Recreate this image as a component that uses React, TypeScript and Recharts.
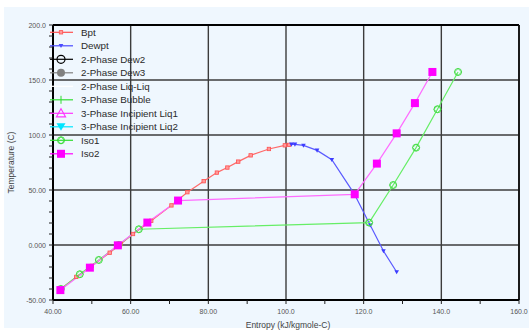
import React from 'react';
import { LineChart, Line, XAxis, YAxis, CartesianGrid, Legend, ReferenceLine } from 'recharts';

// ---------- data ----------
const bpt = [
  { x: 42.0, y: -40.0 }, { x: 46.0, y: -29.0 }, { x: 50.0, y: -19.0 }, { x: 54.6, y: -7.0 },
  { x: 57.5, y: 1.0 }, { x: 60.6, y: 10.0 }, { x: 65.3, y: 22.0 }, { x: 70.5, y: 36.0 },
  { x: 74.6, y: 48.0 }, { x: 78.8, y: 58.0 }, { x: 82.2, y: 65.8 }, { x: 84.9, y: 70.4 },
  { x: 87.7, y: 75.8 }, { x: 90.9, y: 81.5 }, { x: 95.6, y: 87.3 }, { x: 99.7, y: 90.6 },
  { x: 100.8, y: 91.0 },
];
const dewpt = [
  { x: 101.4, y: 91.5 }, { x: 102.3, y: 91.5 }, { x: 104.5, y: 90.5 }, { x: 108.0, y: 86.0 },
  { x: 111.8, y: 77.5 }, { x: 117.5, y: 47.0 }, { x: 121.7, y: 18.0 }, { x: 125.1, y: -5.5 },
  { x: 128.5, y: -24.5 },
];
const iso1 = [
  { x: 42.0, y: -40.0 }, { x: 46.9, y: -26.6 }, { x: 51.8, y: -13.6 }, { x: 56.9, y: 0.0 },
  { x: 62.1, y: 14.3 }, { x: 121.4, y: 20.4 }, { x: 127.6, y: 54.5 }, { x: 133.5, y: 88.5 },
  { x: 139.0, y: 123.4 }, { x: 144.3, y: 157.3 },
];
const iso2 = [
  { x: 41.9, y: -41.0 }, { x: 49.5, y: -20.6 }, { x: 56.7, y: -0.3 }, { x: 64.3, y: 20.4 },
  { x: 72.2, y: 40.4 }, { x: 117.7, y: 46.1 }, { x: 123.4, y: 74.0 }, { x: 128.5, y: 101.5 },
  { x: 133.2, y: 129.0 }, { x: 137.7, y: 157.3 },
];

const legendNames = [
  'Bpt', 'Dewpt', '2-Phase Dew2', '2-Phase Dew3', '2-Phase Liq-Liq', '3-Phase Bubble',
  '3-Phase Incipient Liq1', '3-Phase Incipient Liq2', 'Iso1', 'Iso2',
];

const xMajor = [40, 60, 80, 100, 120, 140, 160];
const xTickLabels = ['40.00', '60.00', '80.00', '100.0', '120.0', '140.0', '160.0'];
const xMinor = [50, 70, 90, 110, 130, 150];
const yMajor = [-50, 0, 50, 100, 150, 200];
const yTickLabels = ['-50.00', '0.000', '50.00', '100.0', '150.0', '200.0'];
const yMinor = [-40, -30, -20, -10, 10, 20, 30, 40, 60, 70, 80, 90, 110, 120, 130, 140, 160, 170, 180, 190];

// ---------- styles ----------
const FONT = '"Liberation Sans", Arial, sans-serif';
const legendStyle: Record<string, { color: string; marker: string }> = {
  'Bpt': { color: '#ff5050', marker: 'smallSquare' },
  'Dewpt': { color: '#4a4aff', marker: 'downTri' },
  '2-Phase Dew2': { color: '#000000', marker: 'openCircle' },
  '2-Phase Dew3': { color: '#808080', marker: 'filledCircle' },
  '2-Phase Liq-Liq': { color: '#ffffff', marker: 'none' },
  '3-Phase Bubble': { color: '#33dd33', marker: 'plus' },
  '3-Phase Incipient Liq1': { color: '#ff33ff', marker: 'openTri' },
  '3-Phase Incipient Liq2': { color: '#00e5ff', marker: 'bigDownTri' },
  'Iso1': { color: '#33dd33', marker: 'openDiamondCircle' },
  'Iso2': { color: '#ff00ff', marker: 'bigSquare' },
};

function marker(type: string, cx: number, cy: number, color: string, key?: string | number) {
  switch (type) {
    case 'smallSquare':
      return <rect key={key} x={cx - 1.7} y={cy - 1.7} width={3.4} height={3.4} fill="#ff9a9a" stroke={color} strokeWidth={0.8} />;
    case 'downTri':
      return <path key={key} d={`M${cx - 2.3},${cy - 1.8} L${cx + 2.3},${cy - 1.8} L${cx},${cy + 2.3} Z`} fill={color} />;
    case 'bigDownTri':
      return <path key={key} d={`M${cx - 4.5},${cy - 3.5} L${cx + 4.5},${cy - 3.5} L${cx},${cy + 4} Z`} fill={color} />;
    case 'openCircle':
      return <circle key={key} cx={cx} cy={cy} r={4} fill="none" stroke={color} strokeWidth={1.2} />;
    case 'filledCircle':
      return <circle key={key} cx={cx} cy={cy} r={4} fill={color} />;
    case 'plus':
      return (
        <g key={key}>
          <line x1={cx} y1={cy - 4} x2={cx} y2={cy + 4} stroke={color} strokeWidth={1} />
        </g>
      );
    case 'openTri':
      return <path key={key} d={`M${cx},${cy - 4.5} L${cx + 4.5},${cy + 3.5} L${cx - 4.5},${cy + 3.5} Z`} fill="none" stroke={color} strokeWidth={1.2} />;
    case 'openDiamondCircle':
      return (
        <g key={key}>
          <circle cx={cx} cy={cy} r={3.5} fill="none" stroke={color} strokeWidth={1} />
          <path d={`M${cx},${cy - 3.5} L${cx + 3.5},${cy} L${cx},${cy + 3.5} L${cx - 3.5},${cy} Z`} fill="none" stroke={color} strokeWidth={0.8} />
        </g>
      );
    case 'bigSquare':
      return <rect key={key} x={cx - 4} y={cy - 4} width={8} height={8} fill={color} />;
    default:
      return <g key={key} />;
  }
}

const makeDot = (type: string, color: string) => (props: any) => {
  const { cx, cy, index } = props;
  if (cx == null || cy == null) return <g key={`d${index}`} />;
  return marker(type, cx, cy, color, `d${index}`);
};

const LegendContent = () => (
  <svg width={150} height={140} style={{ overflow: 'visible' }}>
    {legendNames.map((name, i) => {
      const st = legendStyle[name];
      const cy = 7.3 + i * 13.5;
      return (
        <g key={name}>
          <line x1={2} y1={cy} x2={25} y2={cy} stroke={st.color} strokeWidth={1.2} />
          {marker(st.marker, 13, cy, st.color)}
          <text x={33} y={cy + 3.4} fontSize={9.8} fill="#2a2a2a" fontFamily={FONT}>{name}</text>
        </g>
      );
    })}
  </svg>
);

const XTick = (props: any) => {
  const { x, y, payload } = props;
  const idx = xMajor.indexOf(payload.value);
  if (idx < 0) return <g />;
  return (
    <text x={x} y={y + 8} textAnchor="middle" fontSize={7} fill="#555" fontFamily={FONT}>
      {xTickLabels[idx]}
    </text>
  );
};

const YTick = (props: any) => {
  const { x, y, payload } = props;
  const idx = yMajor.indexOf(payload.value);
  if (idx < 0) return <g />;
  return (
    <text x={x - 1} y={y + 2.5} textAnchor="end" fontSize={7} fill="#555" fontFamily={FONT}>
      {yTickLabels[idx]}
    </text>
  );
};

const xTicks = [...xMajor, ...xMinor].sort((a, b) => a - b);
const yTicks = [...yMajor, ...yMinor].sort((a, b) => a - b);

export default function App() {
  return (
    <div style={{ position: 'absolute', left: 0, top: 0, width: 529, height: 333, background: '#ffffff', overflow: 'hidden' }}>
      <div style={{ position: 'absolute', left: 4, top: 7, right: 0, bottom: 5, background: '#eff7fe' }} />
      <div style={{ position: 'absolute', left: 0, top: 0 }}>
        <LineChart width={529} height={333} margin={{ top: 25, right: 10, left: 0, bottom: 0 }}>
          <CartesianGrid
            horizontalValues={yMajor}
            verticalValues={xMajor}
            stroke="#3c3c3c"
            strokeWidth={1.4}
            fill="none"
          />
          <ReferenceLine y={200} stroke="#000" strokeWidth={2} />
          <ReferenceLine x={160} stroke="#111" strokeWidth={1.8} />
          <XAxis
            dataKey="x"
            type="number"
            domain={[40, 160]}
            ticks={xTicks}
            interval={0}
            tick={<XTick />}
            tickSize={4}
            tickLine={{ stroke: '#222' }}
            axisLine={{ stroke: '#000', strokeWidth: 2 }}
            height={33}
            allowDataOverflow
            label={{
              content: (p: any) => {
                const vb = p.viewBox;
                return (
                  <text x={vb.x + vb.width / 2 + 2} y={328} textAnchor="middle" fontSize={8.5} fill="#444" fontFamily={FONT}>
                    Entropy (kJ/kgmole-C)
                  </text>
                );
              },
            }}
          />
          <YAxis
            dataKey="y"
            type="number"
            domain={[-50, 200]}
            ticks={yTicks}
            interval={0}
            tick={<YTick />}
            tickSize={4}
            tickLine={{ stroke: '#222' }}
            axisLine={{ stroke: '#000', strokeWidth: 2 }}
            width={53}
            allowDataOverflow
            label={{
              content: (p: any) => {
                const vb = p.viewBox;
                const cy = vb.y + vb.height / 2;
                return (
                  <text x={14} y={cy} transform={`rotate(-90 14 ${cy})`} textAnchor="middle" fontSize={8.5} fill="#444" fontFamily={FONT}>
                    Temperature (C)
                  </text>
                );
              },
            }}
          />
          <Legend
            layout="vertical"
            align="center"
            verticalAlign="middle"
            wrapperStyle={{ left: 48, top: 25, width: 150, height: 140 }}
            content={<LegendContent />}
          />
          <Line data={bpt} dataKey="y" name="Bpt" stroke="#ff6a6a" strokeWidth={1.2} dot={makeDot('smallSquare', '#ff5050')} isAnimationActive={false} activeDot={false} />
          <Line data={dewpt} dataKey="y" name="Dewpt" stroke="#5a5aff" strokeWidth={1.2} dot={makeDot('downTri', '#3c3cff')} isAnimationActive={false} activeDot={false} />
          <Line data={iso1} dataKey="y" name="Iso1" stroke="#66ee66" strokeWidth={1.2} dot={makeDot('openDiamondCircle', '#44dd44')} isAnimationActive={false} activeDot={false} />
          <Line data={iso2} dataKey="y" name="Iso2" stroke="#ff6cff" strokeWidth={1.2} dot={makeDot('bigSquare', '#ff00ff')} isAnimationActive={false} activeDot={false} />
        </LineChart>
      </div>
    </div>
  );
}
